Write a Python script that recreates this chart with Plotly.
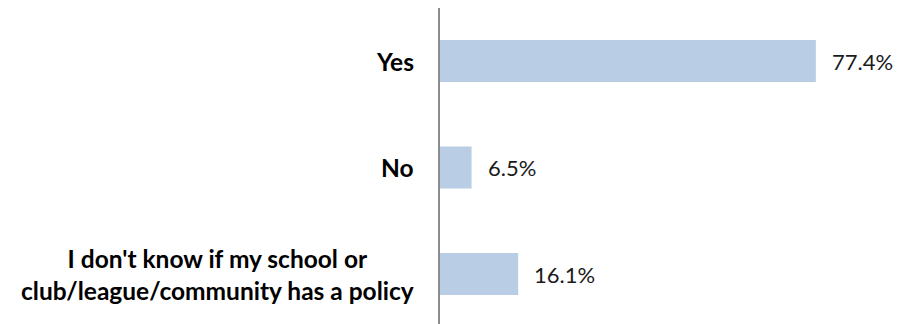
import plotly.graph_objects as go

categories = ["Yes", "No", "I don't know if my school or<br>club/league/community has a policy"]
values = [77.4, 6.5, 16.1]
value_labels = ["77.4%", "6.5%", "16.1%"]

bar_color = "#B9CDE5"
font_family = "Lato, 'Liberation Sans', sans-serif"

fig = go.Figure()
fig.add_trace(go.Bar(
    y=list(range(len(categories))),
    x=values,
    orientation="h",
    marker=dict(color=bar_color, line=dict(width=0)),
    width=0.394,
    hoverinfo="skip",
))

for i, (v, lab) in enumerate(zip(values, value_labels)):
    fig.add_annotation(x=v, y=i, xref="x", yref="y", text=lab, showarrow=False,
                       xanchor="left", yanchor="middle", xshift=14,
                       font=dict(family=font_family, size=22, color="#1a1a1a"))

for i, c in enumerate(categories):
    fig.add_annotation(x=0, y=i, xref="paper", yref="y", text="<b>" + c + "</b>", showarrow=False,
                       xanchor="right", yanchor="middle", xshift=-24, align="center",
                       font=dict(family=font_family, size=24.5, color="#000000"))

fig.update_layout(
    width=910, height=324,
    margin=dict(l=440, r=33, t=8, b=0),
    paper_bgcolor="white", plot_bgcolor="white",
    showlegend=False,
    xaxis=dict(range=[0, 90], visible=False, fixedrange=True),
    yaxis=dict(range=[2.469, -0.498], showticklabels=False, showgrid=False, zeroline=False,
               showline=True, linecolor="#8c8c8c", linewidth=2, ticks=""),
)

fig.write_html("out.html")
